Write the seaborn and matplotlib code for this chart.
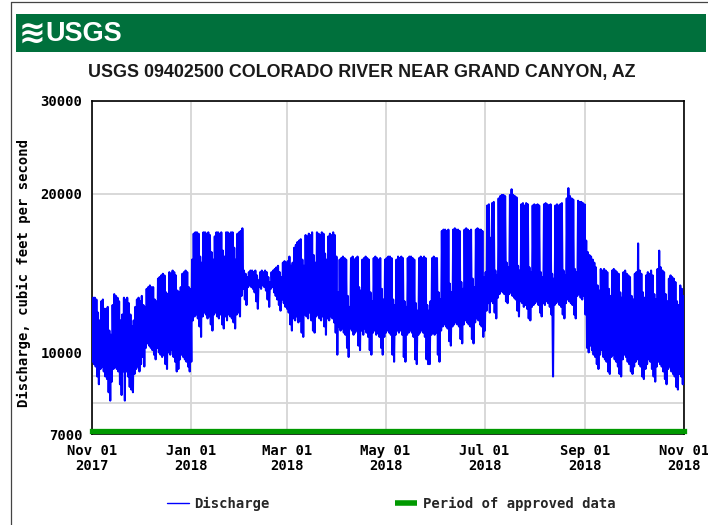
import numpy as np
import pandas as pd
import matplotlib
matplotlib.use("Agg")
import matplotlib.pyplot as plt
from matplotlib.lines import Line2D
from matplotlib.patches import Rectangle
from matplotlib.ticker import FixedLocator, NullFormatter
import seaborn as sns

# ---------------------------------------------------------------------------
# Daily high and low discharge (cubic feet per second), 2017-11-01 .. 2018-10-31
# ---------------------------------------------------------------------------
nov_high = [12700, 12700, 12600, 11900, 11500, 12500, 12600, 12100, 12100, 12200,
            11000, 10800, 12300, 12900, 12800, 12700, 12500, 11500, 11800, 12700,
            12600, 12700, 12400, 11800, 11200, 11500, 12200, 12600, 12700, 12500]
nov_low = [9600, 9500, 9400, 9000, 8700, 9300, 9400, 9200, 9000, 8900,
           8400, 8100, 8800, 9300, 9400, 9300, 9200, 8700, 8300, 9200,
           8100, 9200, 9000, 8600, 8500, 8400, 9100, 9300, 9400, 9200]

dec_high = [12800, 12300, 12200, 13200, 13300, 13400, 13300, 13300, 12600, 12500,
            13800, 13900, 14000, 14100, 14000, 13000, 12900, 14200, 14100, 14300,
            14200, 14000, 13100, 13000, 13300, 14100, 14200, 14300, 14200, 13300, 13200]
dec_low = [9500, 9800, 9400, 10200, 10400, 10300, 10200, 10100, 9900, 9700,
           10200, 10000, 9900, 9800, 9900, 9500, 9300, 10000, 9900, 10100,
           9800, 9600, 9200, 9300, 9700, 9900, 9800, 9700, 9600, 9400, 9200]

jan_high = [15000, 16800, 16900, 16900, 16800, 15200, 14800, 16900, 16900, 16800,
            16900, 16700, 15500, 15000, 16600, 16900, 16900, 16800, 16900, 15600,
            15200, 16900, 16900, 16800, 16900, 16900, 15800, 15000, 16800, 16900, 17000]
jan_low = [9600, 11500, 11700, 11800, 11600, 11200, 10700, 11700, 11900, 11800,
           11600, 11700, 11300, 11000, 11800, 11900, 11700, 11600, 11800, 11300,
           11100, 11700, 11500, 11800, 11700, 11600, 11400, 11100, 11800, 11900, 11700]

feb_high = [17200, 14300, 14100, 13900, 14200, 14300, 14300, 14200, 14300, 14000,
            13700, 14200, 14300, 14200, 14300, 14200, 13900, 13600, 14200, 14300,
            14400, 14500, 14600, 14200, 13900, 14800, 14900, 14800]
feb_low = [12800, 13200, 12600, 12300, 13300, 13400, 13300, 13200, 13000, 12500,
           12100, 13300, 13200, 13400, 13300, 13100, 12600, 12200, 13200, 13300,
           13000, 12800, 12600, 12300, 12000, 12600, 12400, 12200]

mar_high = [14900, 15200, 14600, 14800, 15800, 16000, 16200, 16300, 16400, 15000,
            14600, 16700, 16600, 16800, 16700, 16900, 15300, 14800, 16900, 16800,
            16700, 16900, 16800, 15400, 15000, 16600, 16800, 16700, 16900, 16700, 15200]
mar_low = [12100, 11900, 11300, 11000, 11600, 11500, 11700, 11400, 11500, 10900,
           10700, 11800, 11700, 11600, 11900, 11500, 11000, 10900, 11700, 11800,
           11600, 11500, 11700, 11200, 10800, 11600, 11500, 11700, 11600, 11400, 10900]

apr_high = [13000, 15000, 15100, 15200, 15100, 15000, 12800, 12200, 15100, 15200,
            15000, 15100, 15200, 13300, 13100, 15000, 15100, 15200, 15100, 15000,
            13000, 12500, 15100, 15200, 15100, 15000, 15100, 13200, 12600, 15000]
apr_low = [9900, 11200, 11000, 11100, 10900, 10800, 10200, 9800, 11100, 11000,
           10800, 10900, 11000, 10300, 10100, 11000, 10800, 11100, 10900, 10700,
           10100, 9900, 10900, 11000, 10800, 10900, 10700, 10200, 9900, 10700]

may_high = [15100, 15200, 15200, 15100, 12600, 12300, 15000, 15200, 15100, 15200,
            15100, 12500, 12200, 15100, 15200, 15200, 15100, 15000, 12400, 12000,
            15100, 15200, 15100, 15200, 15100, 12300, 12000, 12500, 15100, 15200, 15100]
may_low = [10900, 11000, 10900, 10800, 9900, 9600, 10800, 11000, 10900, 11000,
           10800, 9800, 9600, 10800, 10900, 11000, 10900, 10700, 9700, 9500,
           10800, 10900, 11000, 10900, 10700, 9700, 9500, 9500, 10800, 10900, 10800]

jun_high = [15100, 13000, 12600, 17000, 17100, 17100, 17000, 17100, 13500, 13000,
            17100, 17200, 17100, 17100, 17000, 13600, 13200, 17100, 17200, 17100,
            17000, 17100, 13800, 13300, 17100, 17200, 17100, 17100, 17000, 13900]
jun_low = [10900, 9900, 9600, 11000, 11200, 11300, 11200, 11100, 10500, 10300,
           11200, 11300, 11400, 11300, 11200, 10600, 10400, 11300, 11500, 11400,
           11300, 11200, 10600, 10400, 11400, 11600, 11500, 11300, 11200, 10700]

jul_high = [14200, 19000, 19100, 16500, 19200, 19300, 14300, 14000, 19600, 19800,
            19900, 19900, 19800, 14800, 14500, 19900, 20400, 19900, 19800, 19700,
            14600, 14300, 19100, 19200, 19000, 19200, 19100, 14500, 14200, 19000, 19100]
jul_low = [11000, 12000, 12400, 11900, 12500, 12400, 11900, 11600, 12700, 12900,
           13100, 13000, 12900, 12500, 12400, 12900, 13000, 12800, 12700, 12600,
           12000, 11700, 12500, 12400, 12200, 12300, 12100, 11600, 11500, 12200, 12300]

aug_high = [19000, 19100, 19000, 14200, 13900, 19100, 19200, 19100, 19000, 19100,
            14100, 13800, 19000, 19100, 19000, 19100, 19200, 14300, 14000, 19600,
            20500, 19800, 19600, 19500, 14400, 14200, 19400, 19300, 19300, 19200, 19100]
aug_low = [12400, 12500, 12300, 11900, 11700, 12400, 12300, 12500, 12400, 12200,
           11800, 9000, 12300, 12400, 12500, 12300, 12200, 11800, 11600, 12400,
           12600, 12500, 12400, 12300, 11800, 11600, 12800, 12900, 12700, 12600, 12800]

sep_high = [16300, 15500, 15300, 15200, 15000, 14800, 14500, 13400, 13100, 14400,
            14300, 14400, 14300, 14200, 13200, 12800, 14300, 14400, 14300, 14200,
            14100, 13000, 12700, 14200, 14300, 14100, 14000, 13900, 12800, 12600]
sep_low = [11800, 10200, 10000, 10300, 10100, 9900, 9800, 9500, 9300, 9900,
           10100, 9800, 9700, 9600, 9200, 9100, 9800, 9900, 9700, 9600,
           9400, 9100, 9000, 9700, 9900, 9800, 9600, 9500, 9200, 9100]

oct_high = [14100, 14200, 16100, 14300, 14100, 13000, 12700, 14000, 14200, 14100,
            14300, 14000, 12900, 12600, 14400, 15600, 14500, 14300, 14200, 12900,
            12500, 13800, 14000, 13900, 13800, 13600, 12500, 12300, 13400, 13200, 12800]
oct_low = [9400, 9600, 9700, 9500, 9400, 9000, 8900, 9300, 9500, 9700,
           9600, 9300, 9000, 8800, 9400, 9600, 9500, 9400, 9200, 8900,
           8700, 9300, 9400, 9200, 9100, 9000, 8600, 8500, 9100, 9000, 8700]

period_start = "2017-11-01"
period_end = "2018-11-01"

tick_dates = ["2017-11-01", "2018-01-01", "2018-03-01", "2018-05-01",
              "2018-07-01", "2018-09-01", "2018-11-01"]
tick_labels = ["Nov 01\n2017", "Jan 01\n2018", "Mar 01\n2018", "May 01\n2018",
               "Jul 01\n2018", "Sep 01\n2018", "Nov 01\n2018"]
y_ticks = [7000, 10000, 20000, 30000]
y_minor_grid = [8000, 9000]

title = "USGS 09402500 COLORADO RIVER NEAR GRAND CANYON, AZ"
y_label = "Discharge, cubic feet per second"

# ---------------------------------------------------------------------------
# Build the sub-daily trace: a morning low followed by an afternoon high
# ---------------------------------------------------------------------------
highs = np.array(nov_high + dec_high + jan_high + feb_high + mar_high + apr_high
                 + may_high + jun_high + jul_high + aug_high + sep_high + oct_high)
lows = np.array(nov_low + dec_low + jan_low + feb_low + mar_low + apr_low
                + may_low + jun_low + jul_low + aug_low + sep_low + oct_low)
n_days = len(highs)
day = np.arange(n_days)
offsets = np.column_stack([day + 0.25, day + 0.70]).ravel()
flows = np.column_stack([lows, highs]).ravel()
t0 = pd.Timestamp(period_start)
df = pd.DataFrame({"time": t0 + pd.to_timedelta(offsets, unit="D"),
                   "discharge": flows})

# ---------------------------------------------------------------------------
sns.set_style("white")

mono = "DejaVu Sans Mono"
sans = "Liberation Sans"

W, H = 708, 525
fig = plt.figure(figsize=(W / 100, H / 100), dpi=100)
fig.patch.set_facecolor("white")


def fx(px):
    return px / W


def fy(py):
    return 1 - py / H


# page frame
fig.add_artist(Line2D([fx(11), fx(11)], [fy(2), fy(525)], color="#444444", lw=0.9))
fig.add_artist(Line2D([fx(11), fx(708)], [fy(2), fy(2)], color="#444444", lw=0.9))

# green banner with logo
fig.add_artist(Rectangle((fx(16), fy(52)), fx(706) - fx(16), fy(14) - fy(52),
                         transform=fig.transFigure, facecolor="#00703c",
                         edgecolor="none"))
fig.text(fx(19), fy(34), "≋", color="white", fontsize=23, fontweight="bold",
         family="DejaVu Sans", ha="left", va="center")
fig.text(fx(45), fy(34), "USGS", color="white", fontsize=19.5, fontweight="bold",
         family=sans, ha="left", va="center")

fig.text(fx(362), fy(73), title, ha="center", va="center", fontsize=12.9,
         fontweight="bold", family=sans, color="#1a1a1a")

ax = fig.add_axes([fx(92), fy(434), fx(684) - fx(92), fy(101) - fy(434)])

sns.lineplot(data=df, x="time", y="discharge", ax=ax, color="#0000ff",
             linewidth=1.5, estimator=None, sort=False, legend=False, zorder=3)

# period of approved data
ax.plot([pd.Timestamp(period_start), pd.Timestamp(period_end)], [7090, 7090],
        color="#009900", lw=3.8, solid_capstyle="projecting", clip_on=False, zorder=4)

ax.set_yscale("log")
ax.set_ylim(7000, 30000)
ax.set_xlim(pd.Timestamp(period_start), pd.Timestamp(period_end))

ax.yaxis.set_major_locator(FixedLocator(y_ticks))
ax.yaxis.set_minor_locator(FixedLocator(y_minor_grid))
ax.yaxis.set_minor_formatter(NullFormatter())
ax.set_yticklabels([str(v) for v in y_ticks])
ax.set_xticks([pd.Timestamp(d) for d in tick_dates])
ax.set_xticklabels(tick_labels, linespacing=1.15)

ax.grid(True, which="major", axis="both", color="#d6d6d6", lw=1.3, zorder=0)
ax.grid(True, which="minor", axis="y", color="#d6d6d6", lw=1.3, zorder=0)
ax.set_axisbelow(True)

ax.tick_params(axis="both", which="both", length=0)
ax.tick_params(axis="y", pad=7)
ax.tick_params(axis="x", pad=7)
for lab in ax.get_xticklabels() + ax.get_yticklabels():
    lab.set_family(mono)
    lab.set_fontweight("bold")
    lab.set_fontsize(10)
    lab.set_color("black")

ax.set_xlabel("")
ax.set_ylabel(y_label, family=mono, fontweight="bold", fontsize=10, color="black")
ax.yaxis.set_label_coords((31 - 92) / 592, (434 - 273) / 333)

for s in ax.spines.values():
    s.set_visible(True)
    s.set_color("black")
    s.set_linewidth(1.2)

handles = [Line2D([], [], color="#0000ff", lw=1.0),
           Line2D([], [], color="#009900", lw=4.0, solid_capstyle="butt")]
fig.legend(handles, ["Discharge", "Period of approved data"], loc="center",
           bbox_to_anchor=(fx(391), fy(504)), ncol=2, frameon=False,
           handlelength=1.6, handletextpad=0.4, columnspacing=9.0,
           prop={"family": mono, "weight": "bold", "size": 10})

fig.savefig("out.png", dpi=100, facecolor="white")
